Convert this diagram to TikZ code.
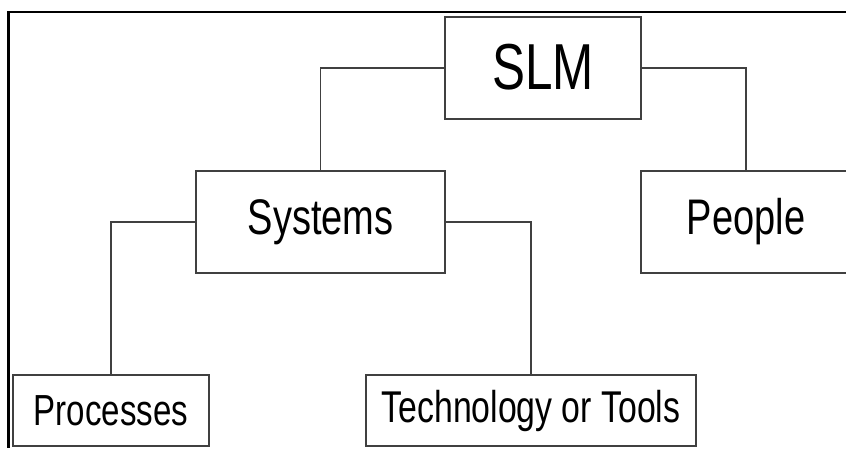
\documentclass[tikz,border=0pt]{standalone}
\usepackage{fontspec}
\usepackage{graphicx}
\setmainfont{Liberation Sans}
\newcommand{\narrowtxt}[2]{\scalebox{0.76}[1]{\fontsize{#1}{#1}\selectfont #2}}
\begin{document}
\begin{tikzpicture}[x=1pt,y=-1pt,
  box/.style={draw=black!75, line width=1.1pt, rectangle, inner sep=0pt, fill=white},
  conn/.style={draw=black!75, line width=1.1pt},
  frame/.style={draw=black, line width=2.6pt}]
\useasboundingbox (0,0) rectangle (846,448);
\fill[white] (0,0) rectangle (846,448);
\coordinate (ftl) at (8.5,12);
\coordinate (ftr) at (846,12);
\coordinate (fbl) at (8.5,448);
\draw[frame] (ftr) -- (ftl) -- (fbl);
\node[box, minimum width=196pt, minimum height=102pt] (slm) at (543,68) {\raisebox{3pt}{\narrowtxt{65}{SLM}}};
\node[box, minimum width=249pt, minimum height=102pt] (sys) at (320.5,222) {\narrowtxt{50}{Systems}};
\node[box, minimum width=210pt, minimum height=102pt] (ppl) at (746,222) {\narrowtxt{50}{People}};
\node[box, minimum width=196pt, minimum height=71pt] (proc) at (111,410.5) {\narrowtxt{43.5}{Processes}};
\node[box, minimum width=330pt, minimum height=71pt] (tech) at (531,410.5) {\narrowtxt{44.5}{Technology or Tools}};
\draw[conn] (slm.west) -| (sys.north);
\draw[conn] (slm.east) -| (ppl.north);
\draw[conn] (sys.west) -| (proc.north);
\draw[conn] (sys.east) -| (tech.north);
\end{tikzpicture}
\end{document}
